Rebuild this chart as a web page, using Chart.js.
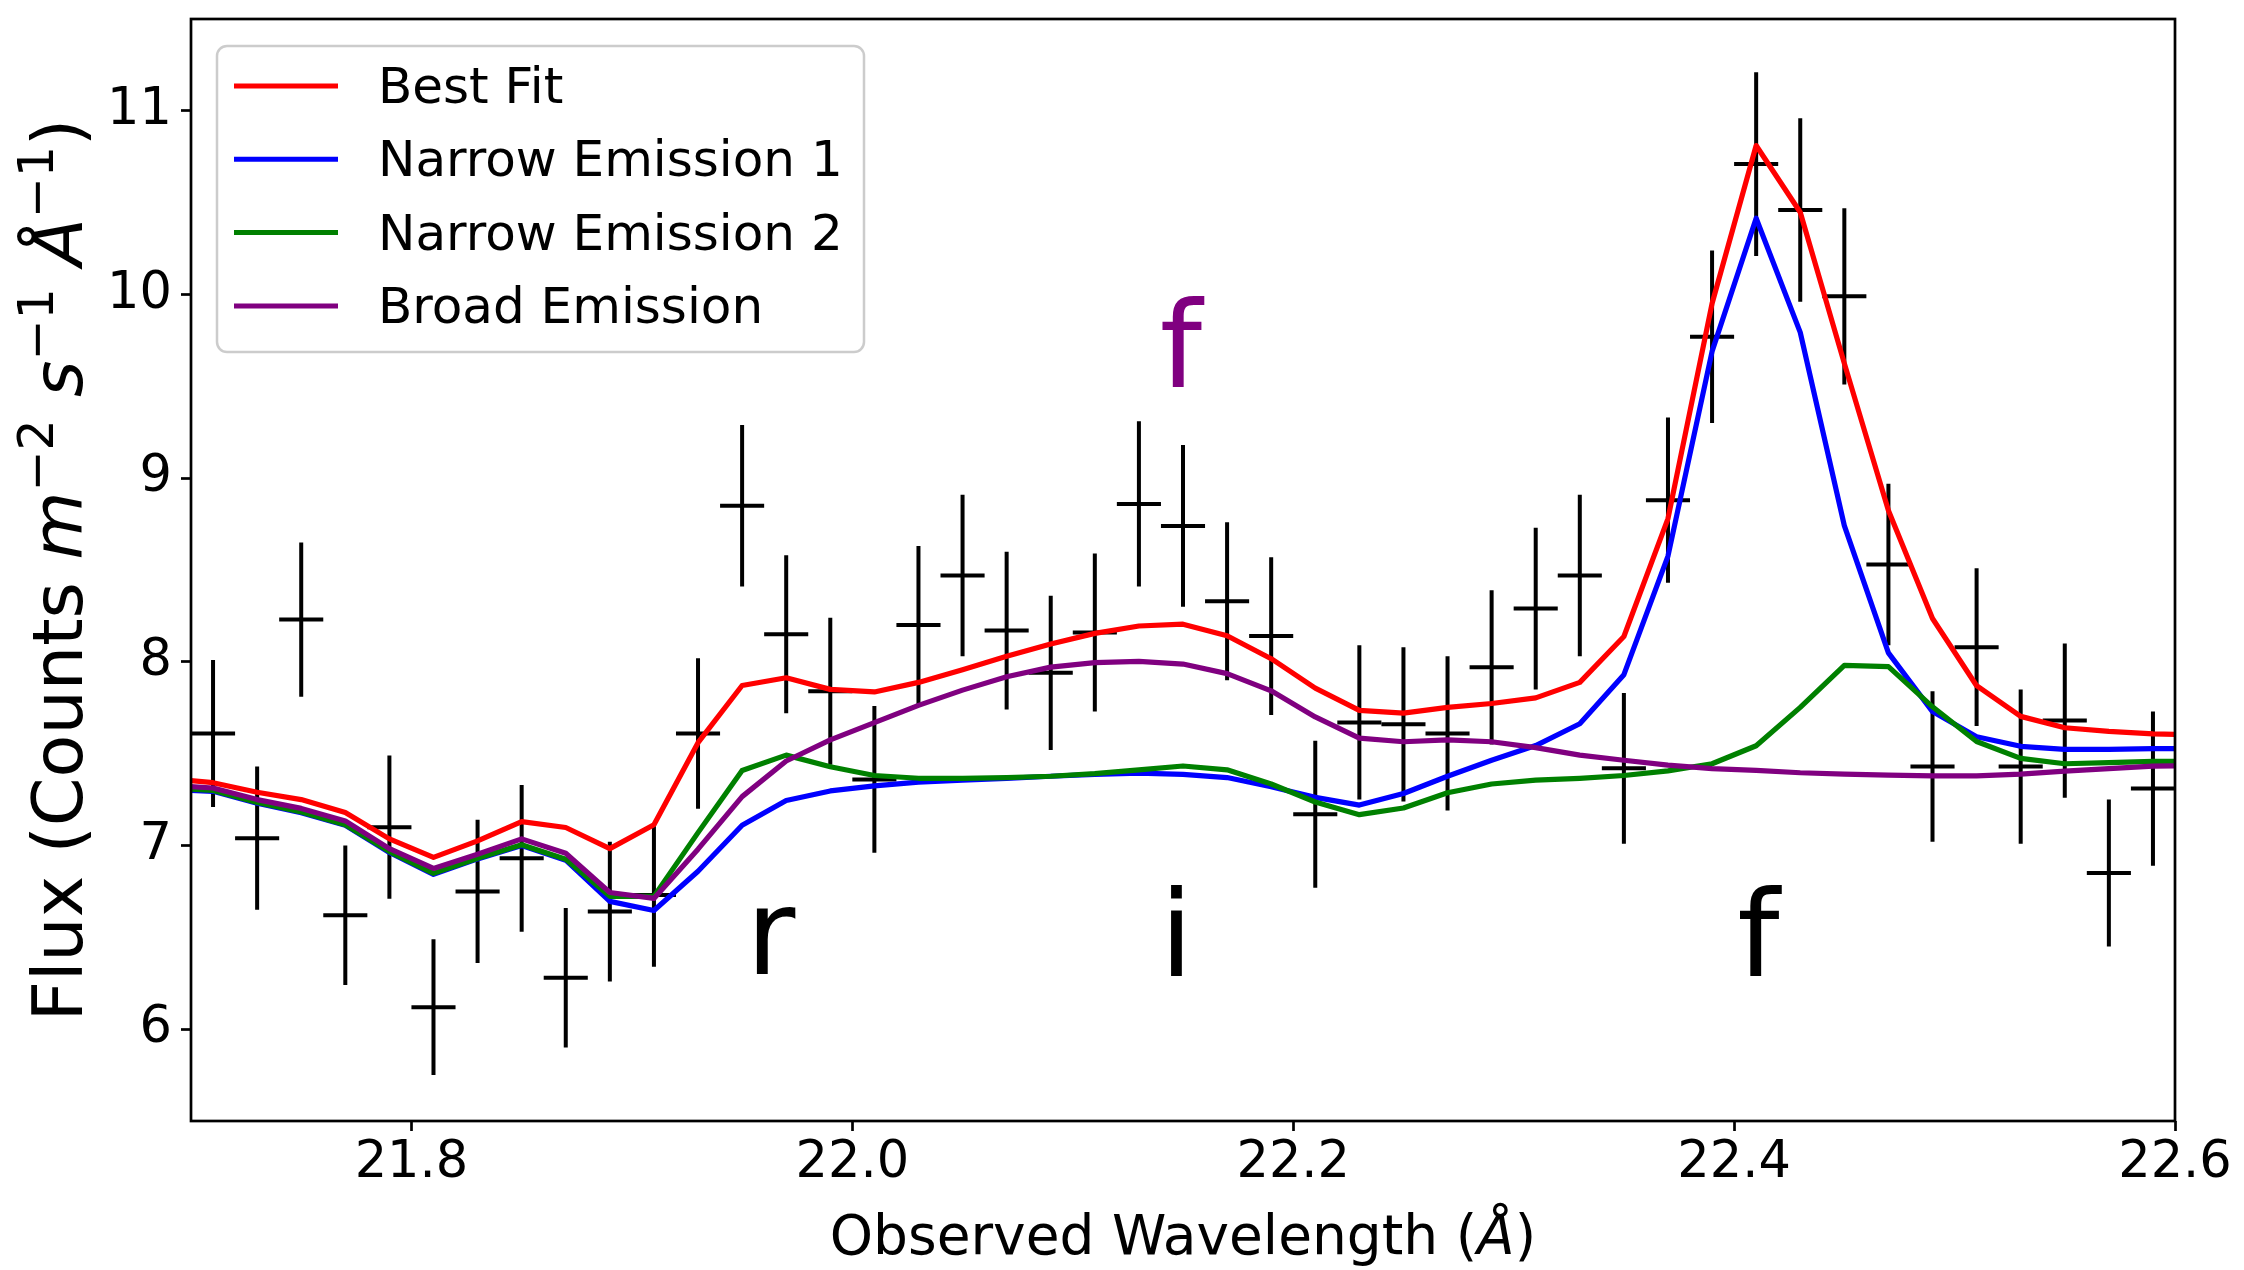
<!DOCTYPE html>
<html>
<head>
<meta charset="utf-8">
<script src="https://cdn.jsdelivr.net/npm/chart.js@4.4.0/dist/chart.umd.min.js"></script>
<style>
  html, body { margin: 0; padding: 0; background: #fff; }
  #wrap { width: 2244px; height: 1270px; }
</style>
</head>
<body>
<div id="wrap"><canvas id="spectrum" width="2244" height="1270"></canvas></div>
<script>
// observed spectrum (bin centres, flux, 1-sigma error)
const wavelength = [
  21.71, 21.73, 21.75, 21.77, 21.79, 21.81, 21.83, 21.85, 21.87, 21.89,
  21.91, 21.93, 21.95, 21.97, 21.99, 22.01, 22.03, 22.05, 22.07, 22.09,
  22.11, 22.13, 22.15, 22.17, 22.19, 22.21, 22.23, 22.25, 22.27, 22.29,
  22.31, 22.33, 22.35, 22.37, 22.39, 22.41, 22.43, 22.45, 22.47, 22.49,
  22.51, 22.53, 22.55, 22.57, 22.59
];
const flux = [
  7.61, 7.04, 8.23, 6.62, 7.10, 6.12, 6.75, 6.93, 6.28, 6.64,
  6.73, 7.61, 8.85, 8.15, 7.84, 7.36, 8.20, 8.47, 8.17, 7.94,
  8.16, 8.86, 8.74, 8.33, 8.14, 7.17, 7.67, 7.66, 7.61, 7.97,
  8.29, 8.47, 7.42, 8.88, 9.77, 10.71, 10.46, 9.99, 8.53, 7.43,
  8.08, 7.43, 7.68, 6.85, 7.31
];
const fluxErr = [
  0.40, 0.39, 0.42, 0.38, 0.39, 0.37, 0.39, 0.40, 0.38, 0.38,
  0.39, 0.41, 0.44, 0.43, 0.40, 0.40, 0.43, 0.44, 0.43, 0.42,
  0.43, 0.45, 0.44, 0.43, 0.43, 0.40, 0.42, 0.42, 0.42, 0.42,
  0.44, 0.44, 0.41, 0.45, 0.47, 0.50, 0.50, 0.48, 0.44, 0.41,
  0.43, 0.42, 0.42, 0.40, 0.42
];
const binHalfWidth = 0.01;

// model components
const modelWavelength = [
  21.69, 21.71, 21.73, 21.75, 21.77, 21.79, 21.81, 21.83, 21.85, 21.87, 21.89,
  21.91, 21.93, 21.95, 21.97, 21.99, 22.01, 22.03, 22.05, 22.07, 22.09,
  22.11, 22.13, 22.15, 22.17, 22.19, 22.21, 22.23, 22.25, 22.27, 22.29,
  22.31, 22.33, 22.35, 22.37, 22.39, 22.41, 22.43, 22.45, 22.47, 22.49,
  22.51, 22.53, 22.55, 22.57, 22.59, 22.61
];
const bestFit = [
  7.364, 7.342, 7.290, 7.250, 7.180, 7.036, 6.935, 7.025, 7.130, 7.098, 6.983,
  7.113, 7.560, 7.871, 7.913, 7.850, 7.836, 7.888, 7.957, 8.030, 8.097,
  8.155, 8.195, 8.205, 8.142, 8.017, 7.857, 7.736, 7.721, 7.752, 7.773,
  7.804, 7.888, 8.138, 8.780, 9.951, 10.811, 10.448, 9.625, 8.824, 8.236,
  7.870, 7.703, 7.641, 7.621, 7.608, 7.603
];
const narrow1 = [
  7.305, 7.295, 7.230, 7.178, 7.110, 6.962, 6.843, 6.927, 7.000, 6.920, 6.696,
  6.646, 6.860, 7.110, 7.245, 7.297, 7.325, 7.345, 7.356, 7.366, 7.377,
  7.387, 7.394, 7.387, 7.370, 7.320, 7.262, 7.220, 7.283, 7.377, 7.464,
  7.544, 7.663, 7.930, 8.576, 9.690, 10.415, 9.794, 8.742, 8.049, 7.729,
  7.592, 7.540, 7.523, 7.523, 7.527, 7.527
];
const narrow2 = [
  7.315, 7.300, 7.234, 7.182, 7.113, 6.967, 6.848, 6.931, 7.004, 6.925, 6.723,
  6.723, 7.070, 7.408, 7.492, 7.429, 7.381, 7.366, 7.366, 7.370, 7.377,
  7.391, 7.412, 7.433, 7.412, 7.335, 7.237, 7.168, 7.204, 7.287, 7.335,
  7.356, 7.366, 7.381, 7.406, 7.445, 7.543, 7.752, 7.981, 7.974, 7.755,
  7.566, 7.474, 7.445, 7.451, 7.458, 7.458
];
const broad = [
  7.329, 7.313, 7.250, 7.202, 7.134, 6.983, 6.875, 6.952, 7.036, 6.958, 6.744,
  6.712, 6.980, 7.266, 7.460, 7.575, 7.669, 7.763, 7.846, 7.919, 7.971,
  7.996, 8.003, 7.988, 7.936, 7.842, 7.700, 7.585, 7.565, 7.575, 7.565,
  7.533, 7.492, 7.464, 7.438, 7.419, 7.409, 7.396, 7.389, 7.383, 7.379,
  7.379, 7.389, 7.405, 7.419, 7.432, 7.436
];

const xTicks = [21.8, 22.0, 22.2, 22.4, 22.6];
const yTicks = [6, 7, 8, 9, 10, 11];

// line identifications: [text, wavelength, flux]
const lineMarks = [
  ["r", 21.963, 6.30],
  ["i", 22.147, 6.29],
  ["f", 22.411, 6.29]
];
const broadMark = ["f", 22.149, 9.495];

const FONT = "DejaVu Sans";

function toPoints(values) {
  return modelWavelength.map((w, i) => ({ x: w, y: values[i] }));
}

function drawParts(ctx, parts, cx, baseline) {
  let total = 0;
  parts.forEach(p => {
    ctx.font = p.font;
    p.w = ctx.measureText(p.text).width;
    total += p.w;
  });
  let pos = cx - total / 2;
  ctx.textAlign = "left";
  ctx.textBaseline = "alphabetic";
  parts.forEach(p => {
    ctx.font = p.font;
    ctx.fillText(p.text, pos, baseline - (p.rise || 0));
    pos += p.w;
  });
}

const spectrumDecor = {
  id: "spectrumDecor",
  beforeDatasetsDraw(chart) {
    const { ctx, chartArea: a, scales: { x, y } } = chart;
    ctx.save();
    ctx.beginPath();
    ctx.rect(a.left, a.top, a.right - a.left, a.bottom - a.top);
    ctx.clip();
    ctx.strokeStyle = "#000";
    ctx.lineWidth = 4;
    wavelength.forEach((w, i) => {
      const px = x.getPixelForValue(w);
      const py = y.getPixelForValue(flux[i]);
      ctx.beginPath();
      ctx.moveTo(x.getPixelForValue(w - binHalfWidth), py);
      ctx.lineTo(x.getPixelForValue(w + binHalfWidth), py);
      ctx.moveTo(px, y.getPixelForValue(flux[i] + fluxErr[i]));
      ctx.lineTo(px, y.getPixelForValue(flux[i] - fluxErr[i]));
      ctx.stroke();
    });
    ctx.restore();
  },
  afterDatasetsDraw(chart) {
    const { ctx, scales: { x, y } } = chart;
    ctx.save();
    ctx.textAlign = "center";
    ctx.textBaseline = "alphabetic";
    ctx.font = `120px ${FONT}`;
    ctx.fillStyle = "#000";
    lineMarks.forEach(([t, w, f]) => ctx.fillText(t, x.getPixelForValue(w), y.getPixelForValue(f)));
    ctx.fillStyle = "#800080";
    ctx.fillText(broadMark[0], x.getPixelForValue(broadMark[1]), y.getPixelForValue(broadMark[2]));
    ctx.restore();
  },
  afterDraw(chart) {
    const { ctx, chartArea: a } = chart;
    ctx.save();

    // frame
    ctx.strokeStyle = "#000";
    ctx.lineWidth = 2.7;
    ctx.strokeRect(a.left, a.top, a.right - a.left, a.bottom - a.top);

    // legend
    ctx.beginPath();
    ctx.roundRect(217, 46, 647, 306, 10);
    ctx.fillStyle = "rgba(255,255,255,0.8)";
    ctx.fill();
    ctx.strokeStyle = "#cccccc";
    ctx.lineWidth = 2.5;
    ctx.stroke();
    ctx.font = `50px ${FONT}`;
    ctx.textAlign = "left";
    ctx.textBaseline = "middle";
    chart.data.datasets.forEach((ds, i) => {
      const rowY = 86 + i * 73.3;
      ctx.strokeStyle = ds.borderColor;
      ctx.lineWidth = 5;
      ctx.beginPath();
      ctx.moveTo(234, rowY);
      ctx.lineTo(338, rowY);
      ctx.stroke();
      ctx.fillStyle = "#000";
      ctx.fillText(ds.label, 378, rowY + 4);
    });

    // axis titles
    ctx.fillStyle = "#000";
    const cx = (a.left + a.right) / 2;
    const cy = (a.top + a.bottom) / 2;
    drawParts(ctx, [
      { text: "Observed Wavelength (", font: `55px ${FONT}` },
      { text: "Å", font: `italic 55px ${FONT}` },
      { text: ")", font: `55px ${FONT}` }
    ], cx, 1254);

    ctx.translate(82, cy);
    ctx.rotate(-Math.PI / 2);
    const reg = `70px ${FONT}`, ital = `italic 70px ${FONT}`, sup = `49px ${FONT}`;
    drawParts(ctx, [
      { text: "Flux (Counts ", font: reg },
      { text: "m", font: ital },
      { text: "\u22122", font: sup, rise: 29 },
      { text: " ", font: reg },
      { text: "s", font: ital },
      { text: "\u22121", font: sup, rise: 29 },
      { text: " ", font: reg },
      { text: "Å", font: ital },
      { text: "\u22121", font: sup, rise: 29 },
      { text: ")", font: reg }
    ], 0, 0);
    ctx.restore();
  }
};

const tickFont = { family: FONT, size: 51 };

new Chart(document.getElementById("spectrum"), {
  type: "line",
  data: {
    datasets: [
      { label: "Best Fit", data: toPoints(bestFit), borderColor: "#ff0000", order: 4 },
      { label: "Narrow Emission 1", data: toPoints(narrow1), borderColor: "#0000ff", order: 3 },
      { label: "Narrow Emission 2", data: toPoints(narrow2), borderColor: "#008000", order: 2 },
      { label: "Broad Emission", data: toPoints(broad), borderColor: "#800080", order: 1 }
    ]
  },
  options: {
    responsive: false,
    devicePixelRatio: 1,
    animation: false,
    layout: { padding: { top: 19, right: 69, bottom: 0, left: 0 } },
    plugins: { legend: { display: false }, tooltip: { enabled: false } },
    elements: {
      point: { radius: 0 },
      line: { tension: 0, borderWidth: 5.2, borderJoinStyle: "round", fill: false }
    },
    datasets: { line: { clip: 0 } },
    scales: {
      x: {
        type: "linear",
        min: 21.7,
        max: 22.6,
        afterBuildTicks: s => { s.ticks = xTicks.map(v => ({ value: v })); },
        afterFit: s => { s.height = 149; s.paddingLeft = 0; s.paddingRight = 0; },
        ticks: {
          callback: v => v.toFixed(1),
          color: "#000",
          font: tickFont,
          padding: 2,
          maxRotation: 0,
          autoSkip: false
        },
        grid: { drawOnChartArea: false, tickLength: 10, tickWidth: 2.7, tickColor: "#000" },
        border: { display: false }
      },
      y: {
        type: "linear",
        min: 5.5,
        max: 11.5,
        afterBuildTicks: s => { s.ticks = yTicks.map(v => ({ value: v })); },
        afterFit: s => { s.width = 191; s.paddingTop = 0; s.paddingBottom = 0; },
        ticks: {
          callback: v => String(v),
          color: "#000",
          font: tickFont,
          padding: 9,
          autoSkip: false
        },
        grid: { drawOnChartArea: false, tickLength: 10, tickWidth: 2.7, tickColor: "#000" },
        border: { display: false }
      }
    }
  },
  plugins: [spectrumDecor]
});
</script>
</body>
</html>
